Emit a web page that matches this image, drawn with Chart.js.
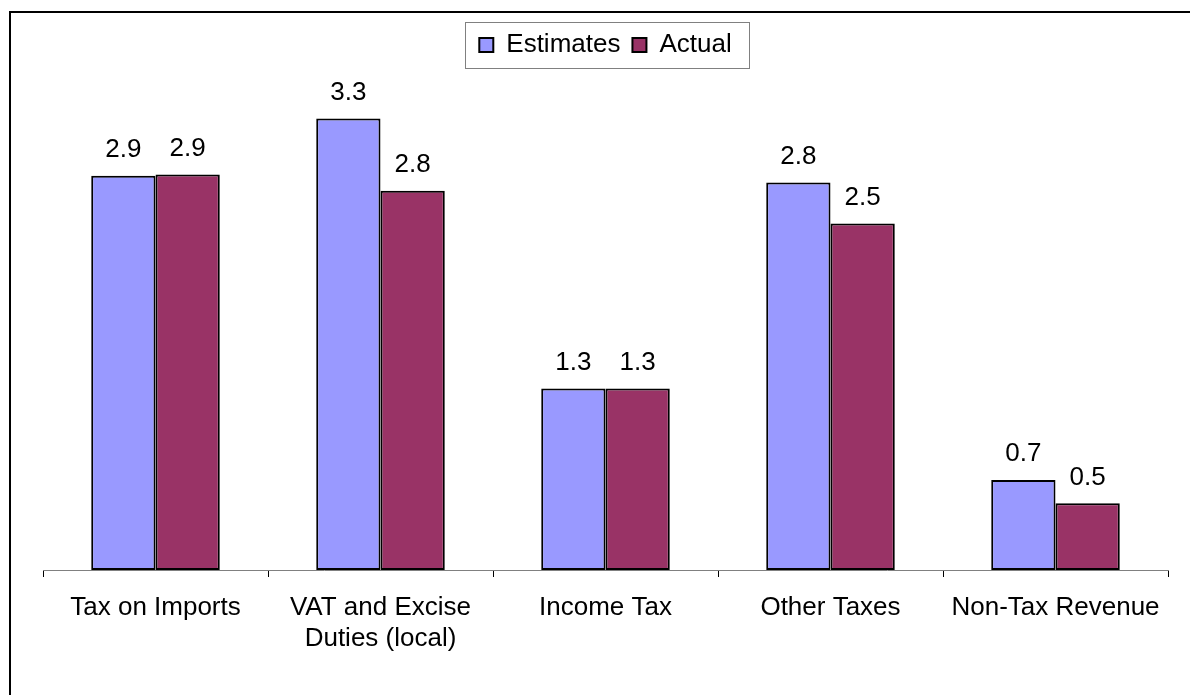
<!DOCTYPE html>
<html>
<head>
<meta charset="utf-8">
<script src="https://cdn.jsdelivr.net/npm/chart.js@4/dist/chart.umd.min.js"></script>
<style>
html,body{margin:0;padding:0;background:#fff;}
#wrap{position:relative;width:1190px;height:695px;}
</style>
</head>
<body>
<div id="wrap"><canvas id="c" width="1190" height="695"></canvas></div>
<script>
const categories = ['Tax on Imports', ['VAT and Excise', 'Duties (local)'], 'Income Tax', 'Other Taxes', 'Non-Tax Revenue'];
const seriesNames = ['Estimates', 'Actual'];
const estimates = [2.89, 3.31, 1.33, 2.84, 0.66];
const actual = [2.90, 2.78, 1.33, 2.54, 0.49];
const Y_MAX = 3.68;

const FONT = "'Liberation Sans', Arial, sans-serif";
Chart.defaults.font.family = FONT;
Chart.defaults.color = '#000';

const frame = {
  id: 'frame',
  beforeDraw(chart) {
    const ctx = chart.ctx;
    ctx.save();
    ctx.fillStyle = '#fff';
    ctx.fillRect(0, 0, chart.width, chart.height);
    ctx.strokeStyle = '#000';
    ctx.lineWidth = 2;
    ctx.beginPath();
    ctx.moveTo(10, chart.height);
    ctx.lineTo(10, 12);
    ctx.lineTo(chart.width, 12);
    ctx.stroke();
    ctx.restore();
  },
  afterDraw(chart) {
    const lg = chart.legend;
    if (!lg || !lg.legendHitBoxes || !lg.legendHitBoxes.length) return;
    const hb = lg.legendHitBoxes;
    let l = Infinity, r = -Infinity;
    hb.forEach(h => { l = Math.min(l, h.left); r = Math.max(r, h.left + h.width); });
    const cy = hb[0].top + hb[0].height / 2;
    const ctx = chart.ctx;
    ctx.save();
    ctx.strokeStyle = '#808080';
    ctx.lineWidth = 1;
    ctx.strokeRect(Math.round(l - 14) + 0.5, Math.round(cy - 23) + 0.5, Math.round(r - l + 32), 46);
    ctx.restore();
  }
};

const valueLabels = {
  id: 'valueLabels',
  afterDatasetsDraw(chart) {
    const ctx = chart.ctx;
    ctx.save();
    ctx.font = '26px ' + FONT;
    ctx.fillStyle = '#000';
    ctx.textAlign = 'center';
    ctx.textBaseline = 'alphabetic';
    chart.data.datasets.forEach((ds, i) => {
      const meta = chart.getDatasetMeta(i);
      meta.data.forEach((el, j) => {
        ctx.fillText(ds.data[j].toFixed(1), el.x, el.y - 18.5);
      });
    });
    ctx.restore();
  }
};

new Chart(document.getElementById('c'), {
  type: 'bar',
  data: {
    labels: categories,
    datasets: [
      { label: seriesNames[0], data: estimates, backgroundColor: '#9999FF', borderColor: '#000', borderWidth: 2, borderSkipped: false },
      { label: seriesNames[1], data: actual, backgroundColor: '#993366', borderColor: '#000', borderWidth: 2, borderSkipped: false }
    ]
  },
  options: {
    responsive: false,
    animation: false,
    layout: { padding: { top: 20, left: 43, right: 22, bottom: 0 } },
    datasets: { bar: { categoryPercentage: 0.5714, barPercentage: 1 } },
    plugins: {
      legend: {
        position: 'top',
        labels: {
          font: { size: 26, family: FONT },
          boxWidth: 14,
          boxHeight: 14,
          padding: 12,
          color: '#000'
        }
      },
      tooltip: { enabled: false }
    },
    scales: {
      x: {
        grid: { display: true, offset: true, drawOnChartArea: false, drawTicks: true, tickLength: 7, tickColor: '#000', tickWidth: 1 },
        border: { display: true, color: '#808080', width: 1 },
        ticks: { font: { size: 26, family: FONT, lineHeight: 1.2 }, color: '#000', padding: 15, maxRotation: 0, autoSkip: false },
        afterFit(scale) { scale.height = 125; }
      },
      y: {
        display: false,
        min: 0,
        max: Y_MAX
      }
    }
  },
  plugins: [frame, valueLabels]
});
</script>
</body>
</html>
